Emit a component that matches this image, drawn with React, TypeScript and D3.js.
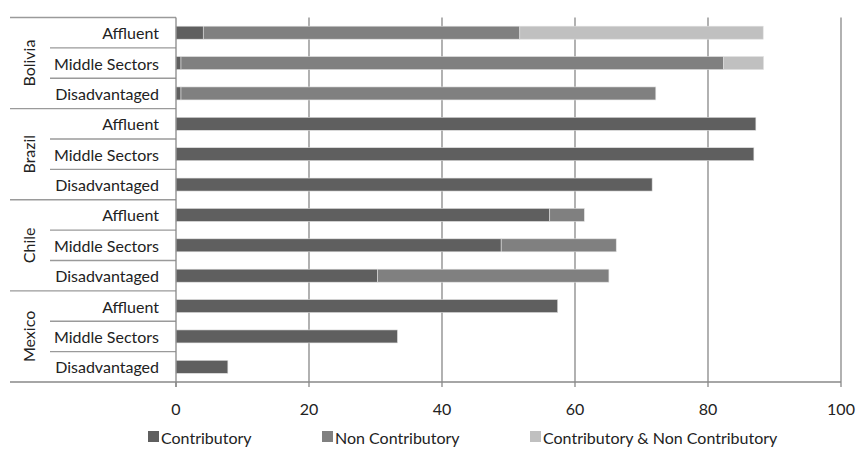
import React from "react";
import * as d3 from "d3";

const countries = ["Bolivia", "Brazil", "Chile", "Mexico"];
const sectors = ["Affluent", "Middle Sectors", "Disadvantaged"];
const seriesNames = ["Contributory", "Non Contributory", "Contributory & Non Contributory"];
const contributory = [4.1, 0.75, 0.75, 87.2, 86.9, 71.6, 56.2, 48.9, 30.3, 57.4, 33.3, 7.8];
const nonContributory = [47.6, 81.6, 71.4, 0, 0, 0, 5.2, 17.3, 34.8, 0, 0, 0];
const both = [36.6, 6.0, 0, 0, 0, 0, 0, 0, 0, 0, 0, 0];
const xTicks = [0, 20, 40, 60, 80, 100];
const colors = ["#5f5f5f", "#808080", "#c0c0c0"];

const W = 856;
const H = 458;
const FONT = "Lato, 'Open Sans', sans-serif";

export default function App() {
  const rows = contributory.map((c, i) => ({
    idx: i,
    country: countries[Math.floor(i / 3)],
    sector: sectors[i % 3],
    c,
    nc: nonContributory[i],
    b: both[i],
  }));
  const stack = d3.stack<any>().keys(["c", "nc", "b"]);
  const layers = stack(rows);

  const x = d3.scaleLinear().domain([0, 100]).range([176, 841]);
  const top = 17.5;
  const bottom = 382;
  const yBand = d3
    .scaleBand<number>()
    .domain(rows.map((r) => r.idx))
    .range([top, bottom])
    .paddingInner(0)
    .paddingOuter(0);
  const step = yBand.step();
  const barH = 13;

  const gridColor = "#888888";
  const sepColor = "#9a9a9a";
  const fs = 16;

  return (
    <svg
      width={W}
      height={H}
      style={{ position: "absolute", left: 0, top: 0, background: "#fff" }}
      fontFamily={FONT}
    >
      {/* gridlines */}
      {xTicks.slice(1).map((t) => (
        <line key={"g" + t} x1={x(t)} x2={x(t)} y1={top} y2={bottom} stroke={gridColor} strokeWidth={1.3} />
      ))}
      {/* bars */}
      {layers.map((layer, li) =>
        layer.map((d, i) => {
          const w = x(d[1]) - x(d[0]);
          if (w <= 0) return null;
          const yc = (yBand(i) as number) + step / 2;
          return (
            <rect
              key={li + "-" + i}
              x={x(d[0])}
              y={yc - barH / 2}
              width={w}
              height={barH}
              fill={colors[li]}
              stroke="#e0e0e0"
              strokeWidth={0.6}
            />
          );
        })
      )}
      {/* category separators */}
      {d3.range(0, 12).map((k) => {
        const yy = top + k * step;
        const isGroup = k % 3 === 0;
        return (
          <line key={"s" + k} x1={isGroup ? 10 : 50} x2={176} y1={yy} y2={yy} stroke={sepColor} strokeWidth={1.3} />
        );
      })}
      {/* y axis line */}
      <line x1={176} x2={176} y1={top} y2={bottom + 5} stroke={gridColor} strokeWidth={1.3} />
      {/* x axis line */}
      <line x1={10} x2={841} y1={bottom} y2={bottom} stroke={gridColor} strokeWidth={1.3} />
      {xTicks.map((t) => (
        <g key={"t" + t}>
          <line x1={x(t)} x2={x(t)} y1={bottom} y2={bottom + 5} stroke={gridColor} strokeWidth={1.3} />
          <text x={x(t)} y={408} textAnchor="middle" dominantBaseline="central" fontSize={fs} fill="#222">
            {t}
          </text>
        </g>
      ))}
      {/* sector labels */}
      {rows.map((r) => (
        <text
          key={"l" + r.idx}
          x={159}
          y={(yBand(r.idx) as number) + step / 2}
          textAnchor="end"
          dominantBaseline="central"
          fontSize={fs}
          fill="#222"
        >
          {r.sector}
        </text>
      ))}
      {/* country labels */}
      {countries.map((c, ci) => {
        const yc = top + (ci * 3 + 1.5) * step;
        return (
          <text
            key={"c" + c}
            transform={`translate(28,${yc}) rotate(-90)`}
            textAnchor="middle"
            dominantBaseline="central"
            fontSize={fs}
            fill="#222"
          >
            {c}
          </text>
        );
      })}
      {/* legend */}
      {seriesNames.map((s, i) => {
        const lx = [148, 322, 530][i];
        return (
          <g key={"lg" + i}>
            <rect x={lx} y={431} width={11} height={11} fill={colors[i]} />
            <text x={lx + 13} y={437} dominantBaseline="central" fontSize={fs} fill="#222">
              {s}
            </text>
          </g>
        );
      })}
    </svg>
  );
}
